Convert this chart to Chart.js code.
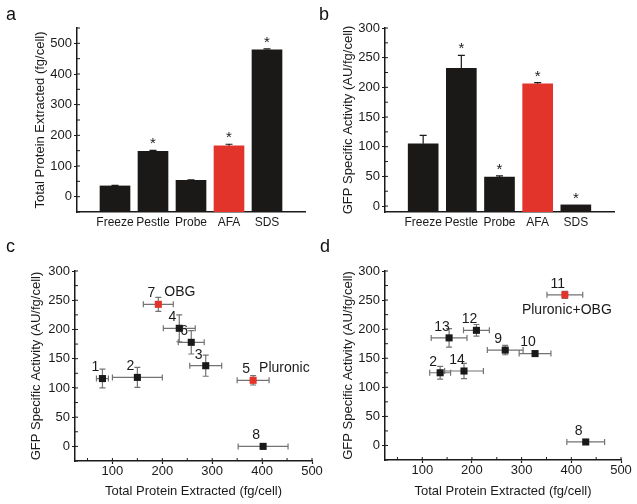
<!DOCTYPE html>
<html>
<head>
<meta charset="utf-8">
<script src="https://cdn.jsdelivr.net/npm/chart.js@4.4.0/dist/chart.umd.min.js"></script>
<style>
  body { margin: 0; background: #fff; }
  #wrap { position: relative; width: 637px; height: 504px; overflow: hidden; font-family: "Liberation Sans", Arial, sans-serif; }
  canvas { position: absolute; }
  .tag { position: absolute; font-size: 18px; line-height: 18px; color: #111; }
</style>
</head>
<body>
<div id="wrap">
  <canvas id="ca" width="318" height="250" style="left:0;top:0"></canvas>
  <canvas id="cb" width="319" height="250" style="left:318px;top:0"></canvas>
  <canvas id="cd" width="319" height="254" style="left:318px;top:250px"></canvas>
  <canvas id="cc" width="340" height="254" style="left:0;top:250px"></canvas>
  <div class="tag" style="left:6px;top:5px">a</div>
  <div class="tag" style="left:319px;top:5px">b</div>
  <div class="tag" style="left:6px;top:237px">c</div>
  <div class="tag" style="left:320px;top:237px">d</div>
</div>
<script>
// panels a, b
const categories = ['Freeze', 'Pestle', 'Probe', 'AFA', 'SDS'];
const proteinMean = [35, 148, 53, 166, 479];
const proteinErr = [2, 3, 2, 5, 3];
const proteinStar = [false, true, false, true, true];
const gfpMean = [105, 232, 49, 206, 2];
const gfpErr = [14, 22, 2, 2, 0];
const gfpStar = [false, true, true, true, true];
const barRed = [false, false, false, true, false];
const proteinTicks = [0, 100, 200, 300, 400, 500];
const gfpTicks = [0, 50, 100, 150, 200, 250, 300];

// panel c
const cIds = ['1', '2', '3', '4', '5', '6', '7', '8'];
const cNames = ['', '', '', '', 'Pluronic', '', 'OBG', ''];
const cProtein = [80, 150, 287, 234, 382, 258, 192, 402];
const cProteinErr = [12, 50, 32, 32, 32, 26, 30, 50];
const cGfp = [116, 118, 138, 202, 113, 178, 243, 0];
const cGfpErr = [16, 17, 18, 23, 8, 20, 12, 0];
const cRed = [false, false, false, false, true, false, true, false];

// panel d
const dIds = ['2', '14', '13', '12', '9', '10', '11', '8'];
const dNames = ['', '', '', '', '', '', 'Pluronic+OBG', ''];
const dProtein = [136, 184, 154, 209, 267, 327, 387, 429];
const dProteinErr = [21, 39, 36, 26, 36, 32, 36, 38];
const dGfp = [125, 128, 185, 198, 164, 158, 259, 6];
const dGfpErr = [11, 13, 16, 10, 8, 3, 6, 0];
const dRed = [false, false, false, false, false, false, true, false];

const xTicks = [100, 200, 300, 400, 500];

const BLACK = '#1b1818';
const RED = '#e3342b';
const INK = '#1a1a1a';

Chart.defaults.font.family = '"Liberation Sans", Arial, sans-serif';
Chart.defaults.color = INK;

function minorTicks(ctx, scale, step, horizontal, area) {
  ctx.save();
  ctx.strokeStyle = INK;
  ctx.lineWidth = 1;
  ctx.beginPath();
  for (let v = Math.ceil(scale.min / step) * step; v <= scale.max; v += step) {
    const p = scale.getPixelForValue(v);
    if (horizontal) { ctx.moveTo(p, area.bottom); ctx.lineTo(p, area.bottom - 3); }
    else { ctx.moveTo(area.left, p); ctx.lineTo(area.left + 3, p); }
  }
  ctx.stroke();
  ctx.restore();
}

function yAxis(min, max, ticks, title, width) {
  return {
    min: min, max: max,
    afterBuildTicks: s => { s.ticks = ticks.map(v => ({ value: v })); },
    afterFit: s => { s.width = width; },
    grid: { drawOnChartArea: false, tickLength: 3, color: INK, tickWidth: 1.2 },
    border: { color: INK, width: 1.5 },
    ticks: { padding: 2, font: { size: 13 } },
    title: { display: true, text: title, padding: { top: 4, bottom: 0 }, font: { size: 13 } }
  };
}

function barChart(id, values, errs, stars, ticks, yMin, yMax, minor, title, pad) {
  const labels = [''].concat(categories, ['']);
  const data = [null].concat(values, [null]);
  const colors = [BLACK].concat(barRed.map(r => r ? RED : BLACK), [BLACK]);
  const decor = {
    id: 'decor',
    afterDatasetsDraw(chart) {
      const ctx = chart.ctx, ys = chart.scales.y;
      const meta = chart.getDatasetMeta(0);
      ctx.save();
      ctx.strokeStyle = INK;
      ctx.lineWidth = 1.2;
      ctx.fillStyle = INK;
      ctx.font = '15px "Liberation Sans", Arial, sans-serif';
      ctx.textAlign = 'center';
      ctx.textBaseline = 'alphabetic';
      values.forEach((v, i) => {
        const x = meta.data[i + 1].x;
        const y0 = ys.getPixelForValue(v);
        const y1 = ys.getPixelForValue(v + errs[i]);
        if (errs[i] > 0) {
          ctx.beginPath();
          ctx.moveTo(x, y0); ctx.lineTo(x, y1);
          ctx.moveTo(x - 3.5, y1); ctx.lineTo(x + 3.5, y1);
          ctx.stroke();
        }
        if (stars[i]) ctx.fillText('*', x, y1 - 2);
      });
      ctx.restore();
    },
    afterDraw(chart) {
      minorTicks(chart.ctx, chart.scales.y, minor, false, chart.chartArea);
    }
  };
  return new Chart(document.getElementById(id), {
    type: 'bar',
    data: {
      labels: labels,
      datasets: [{ data: data, base: yMin, backgroundColor: colors, barThickness: 30 }]
    },
    options: {
      responsive: false,
      animation: false,
      layout: { padding: pad },
      plugins: { legend: { display: false }, tooltip: { enabled: false } },
      scales: {
        x: {
          offset: false,
          afterFit: s => { s.height = 38; },
          grid: { display: false, drawTicks: false, tickLength: 0 },
          border: { color: INK, width: 1.5 },
          ticks: { padding: 3, autoSkip: false, maxRotation: 0, font: { size: 12 } }
        },
        y: yAxis(yMin, yMax, ticks, title, pad.yw)
      }
    },
    plugins: [decor]
  });
}

function scatterChart(id, ids, names, xs, xe, ys, ye, red, pad, nameAt) {
  const decor = {
    id: 'decor',
    beforeDatasetsDraw(chart) {
      const ctx = chart.ctx, sx = chart.scales.x, sy = chart.scales.y;
      ctx.save();
      ctx.strokeStyle = '#737373';
      ctx.lineWidth = 1.2;
      ctx.beginPath();
      xs.forEach((xv, i) => {
        const px = sx.getPixelForValue(xv), py = sy.getPixelForValue(ys[i]);
        const x0 = sx.getPixelForValue(xv - xe[i]), x1 = sx.getPixelForValue(xv + xe[i]);
        ctx.moveTo(x0, py); ctx.lineTo(x1, py);
        ctx.moveTo(x0, py - 3); ctx.lineTo(x0, py + 3);
        ctx.moveTo(x1, py - 3); ctx.lineTo(x1, py + 3);
        if (ye[i] > 0) {
          const y0 = sy.getPixelForValue(ys[i] - ye[i]), y1 = sy.getPixelForValue(ys[i] + ye[i]);
          ctx.moveTo(px, y0); ctx.lineTo(px, y1);
          ctx.moveTo(px - 3, y0); ctx.lineTo(px + 3, y0);
          ctx.moveTo(px - 3, y1); ctx.lineTo(px + 3, y1);
        }
      });
      ctx.stroke();
      ctx.restore();
    },
    afterDatasetsDraw(chart) {
      const ctx = chart.ctx, sx = chart.scales.x, sy = chart.scales.y;
      ctx.save();
      ctx.fillStyle = INK;
      ctx.font = '14px "Liberation Sans", Arial, sans-serif';
      ctx.textBaseline = 'middle';
      xs.forEach((xv, i) => {
        const px = sx.getPixelForValue(xv), py = sy.getPixelForValue(ys[i]);
        ctx.textAlign = 'center';
        ctx.fillText(ids[i], px - 7, py - 11);
        if (names[i]) {
          ctx.textAlign = nameAt.align;
          ctx.fillText(names[i], px + nameAt.dx, py + nameAt.dy);
        }
      });
      ctx.restore();
    },
    afterDraw(chart) {
      minorTicks(chart.ctx, chart.scales.y, 25, false, chart.chartArea);
      minorTicks(chart.ctx, chart.scales.x, 50, true, chart.chartArea);
    }
  };
  return new Chart(document.getElementById(id), {
    type: 'scatter',
    data: {
      datasets: [{
        data: xs.map((x, i) => ({ x: x, y: ys[i] })),
        pointStyle: 'rect',
        pointRadius: 5,
        pointBorderWidth: 0,
        pointBackgroundColor: red.map(r => r ? RED : BLACK)
      }]
    },
    options: {
      responsive: false,
      animation: false,
      layout: { padding: pad },
      plugins: { legend: { display: false }, tooltip: { enabled: false } },
      scales: {
        x: {
          type: 'linear', min: 25, max: 500,
          afterBuildTicks: s => { s.ticks = xTicks.map(v => ({ value: v })); },
          afterFit: s => { s.height = pad.xh; },
          grid: { drawOnChartArea: false, tickLength: 3, color: INK, tickWidth: 1.2 },
          border: { color: INK, width: 1.5 },
          ticks: { padding: 0, font: { size: 13 } },
          title: { display: true, text: 'Total Protein Extracted (fg/cell)', padding: { top: 0, bottom: 5 }, font: { size: 13 } }
        },
        y: yAxis(-25, 300, gfpTicks, 'GFP Specific Activity (AU/fg/cell)', pad.yw)
      }
    },
    plugins: [decor]
  });
}

barChart('ca', proteinMean, proteinErr, proteinStar, proteinTicks, -50, 550, 50,
  'Total Protein Extracted (fg/cell)', { left: 29, top: 28, right: 13, bottom: 0, yw: 48 });
barChart('cb', gfpMean, gfpErr, gfpStar, gfpTicks, -10, 300, 25,
  'GFP Specific Activity (AU/fg/cell)', { left: 19, top: 28, right: 23, bottom: 0, yw: 48 });
scatterChart('cc', cIds, cNames, cProtein, cProteinErr, cGfp, cGfpErr, cRed,
  { left: 25, top: 21, right: 28, bottom: 0, yw: 50, xh: 43 }, { align: 'left', dx: 6, dy: -12 });
scatterChart('cd', dIds, dNames, dProtein, dProteinErr, dGfp, dGfpErr, dRed,
  { left: 19, top: 21, right: 16, bottom: 0, yw: 48, xh: 44 }, { align: 'center', dx: 2, dy: 15 });
</script>
</body>
</html>
